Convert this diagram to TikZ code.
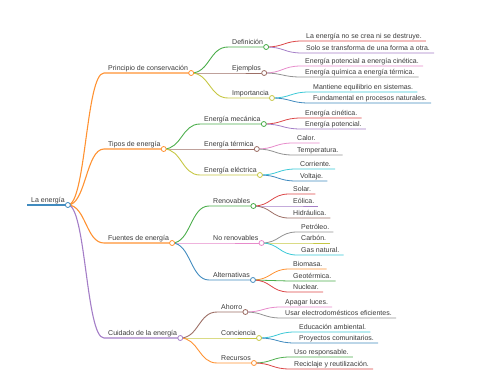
\documentclass[tikz,border=0pt]{standalone}
\usepackage{fontspec}
\setmainfont{Liberation Sans}
\usetikzlibrary{calc}
\pgfdeclarelayer{background}
\pgfsetlayers{background,main}
\definecolor{mmblue0}{HTML}{1F77B4}
\definecolor{mmorange0}{HTML}{FF7F0E}
\definecolor{mmgreen0}{HTML}{2CA02C}
\definecolor{mmred0}{HTML}{D62728}
\definecolor{mmpurple0}{HTML}{9467BD}
\definecolor{mmbrown0}{HTML}{8C564B}
\definecolor{mmpink0}{HTML}{E377C2}
\definecolor{mmgray0}{HTML}{7F7F7F}
\definecolor{mmolive0}{HTML}{BCBD22}
\definecolor{mmcyan0}{HTML}{17BECF}
\colorlet{mmblue}{mmblue0!85!white}
\colorlet{mmorange}{mmorange0!85!white}
\colorlet{mmgreen}{mmgreen0!85!white}
\colorlet{mmred}{mmred0!85!white}
\colorlet{mmpurple}{mmpurple0!85!white}
\colorlet{mmbrown}{mmbrown0!85!white}
\colorlet{mmpink}{mmpink0!85!white}
\colorlet{mmgray}{mmgray0!85!white}
\colorlet{mmolive}{mmolive0!85!white}
\colorlet{mmcyan}{mmcyan0!85!white}
\definecolor{mmtext}{HTML}{3A3A3A}
\tikzset{
  lbl/.style={anchor=base west, inner sep=0pt, text=mmtext, font=\fontsize{7}{8.5}\selectfont},
  dot/.style={circle, inner sep=0pt, minimum size=5pt, fill=white, line width=0.8pt},
}
% inner node: name, parent, startx, y, color, line width, text
\newcommand\mmnode[7]{%
  \coordinate (#1s) at (#3,#4);
  \node[lbl] (#1t) at (#3+4,#4-2.5) {#7};
  \node[dot,draw=#5] (#1) at ($(#1t.east |- #1s)+(3,0)$) {};
  \begin{pgfonlayer}{background}
  \draw[#5,line width=#6] let \p1=(#2.center), \p2=(#1s) in
    (\p1) .. controls ({(\x1+\x2)/2},\y1) and ({(\x1+\x2)/2},\y2) .. (\p2) -- (#1.center);
  \end{pgfonlayer}}
% leaf: name, parent, startx, y, color, text
\newcommand\mmleaf[6]{%
  \coordinate (#1s) at (#3,#4);
  \node[lbl] (#1t) at (#3+4,#4-2.5) {#6};
  \coordinate (#1e) at ($(#1t.east |- #1s)+(4,0)$);
  \begin{pgfonlayer}{background}
  \draw[#5,line width=0.8pt] let \p1=(#2.center), \p2=(#1s) in
    (\p1) .. controls ({(\x1+\x2)/2},\y1) and ({(\x1+\x2)/2},\y2) .. (\p2) -- (#1e);
  \end{pgfonlayer}}
\begin{document}
\begin{tikzpicture}[x=1pt,y=-1pt]
\useasboundingbox (0,0) rectangle (480,384);
% root
\coordinate (rs) at (27,205);
\node[lbl] (rt) at (31,202.5) {La energía};
\node[dot,draw=mmblue] (r) at ($(rt.east |- rs)+(3,0)$) {};
\begin{pgfonlayer}{background}
\draw[mmblue,line width=1.3pt] (rs) -- (r.center);
\end{pgfonlayer}
% level 1
\mmnode{p1}{r}{104}{73}{mmorange}{1.1pt}{Principio de conservación}
\mmnode{p2}{r}{104}{149}{mmorange}{1.1pt}{Tipos de energía}
\mmnode{p3}{r}{104}{243}{mmorange}{1.1pt}{Fuentes de energía}
\mmnode{p4}{r}{104}{338}{mmpurple}{1.1pt}{Cuidado de la energía}
% level 2
\mmnode{a1}{p1}{228}{47}{mmgreen}{0.9pt}{Definición}
\mmnode{a2}{p1}{228}{73}{mmbrown}{0.9pt}{Ejemplos}
\mmnode{a3}{p1}{228}{98}{mmolive}{0.9pt}{Importancia}
\mmnode{b1}{p2}{200}{124}{mmgreen}{0.9pt}{Energía mecánica}
\mmnode{b2}{p2}{200}{149}{mmbrown}{0.9pt}{Energía térmica}
\mmnode{b3}{p2}{200}{175}{mmolive}{0.9pt}{Energía eléctrica}
\mmnode{c1}{p3}{209}{206}{mmgreen}{0.9pt}{Renovables}
\mmnode{c2}{p3}{209}{243}{mmpink}{0.9pt}{No renovables}
\mmnode{c3}{p3}{209}{280}{mmblue}{0.9pt}{Alternativas}
\mmnode{d1}{p4}{217}{312}{mmbrown}{0.9pt}{Ahorro}
\mmnode{d2}{p4}{217}{338}{mmolive}{0.9pt}{Conciencia}
\mmnode{d3}{p4}{217}{363}{mmorange}{0.9pt}{Recursos}
% leaves
\mmleaf{a1x}{a1}{302}{41}{mmred}{La energía no se crea ni se destruye.}
\mmleaf{a1y}{a1}{302}{53}{mmpurple}{Solo se transforma de una forma a otra.}
\mmleaf{a2x}{a2}{301}{66}{mmpink}{Energía potencial a energía cinética.}
\mmleaf{a2y}{a2}{301}{77}{mmgray}{Energía química a energía térmica.}
\mmleaf{a3x}{a3}{309}{92}{mmcyan}{Mantiene equilibrio en sistemas.}
\mmleaf{a3y}{a3}{309}{103}{mmblue}{Fundamental en procesos naturales.}
\mmleaf{b1x}{b1}{301}{118}{mmred}{Energía cinética.}
\mmleaf{b1y}{b1}{301}{129}{mmpurple}{Energía potencial.}
\mmleaf{b2x}{b2}{293}{143}{mmpink}{Calor.}
\mmleaf{b2y}{b2}{293}{155}{mmgray}{Temperatura.}
\mmleaf{b3x}{b3}{296}{169}{mmcyan}{Corriente.}
\mmleaf{b3y}{b3}{296}{181}{mmblue}{Voltaje.}
\mmleaf{c1x}{c1}{289}{194}{mmred}{Solar.}
\mmleaf{c1y}{c1}{289}{206}{mmpurple}{Eólica.}
\mmleaf{c1z}{c1}{289}{218}{mmbrown}{Hidráulica.}
\mmleaf{c2x}{c2}{297}{232}{mmgray}{Petróleo.}
\mmleaf{c2y}{c2}{297}{243}{mmolive}{Carbón.}
\mmleaf{c2z}{c2}{297}{255}{mmcyan}{Gas natural.}
\mmleaf{c3x}{c3}{289}{269}{mmorange}{Biomasa.}
\mmleaf{c3y}{c3}{289}{281}{mmgreen}{Geotérmica.}
\mmleaf{c3z}{c3}{289}{292}{mmred}{Nuclear.}
\mmleaf{d1x}{d1}{281}{307}{mmpink}{Apagar luces.}
\mmleaf{d1y}{d1}{281}{318}{mmgray}{Usar electrodomésticos eficientes.}
\mmleaf{d2x}{d2}{295}{332}{mmcyan}{Educación ambiental.}
\mmleaf{d2y}{d2}{295}{343}{mmblue}{Proyectos comunitarios.}
\mmleaf{d3x}{d3}{290}{357}{mmgreen}{Uso responsable.}
\mmleaf{d3y}{d3}{290}{369}{mmred}{Reciclaje y reutilización.}
\end{tikzpicture}
\end{document}
